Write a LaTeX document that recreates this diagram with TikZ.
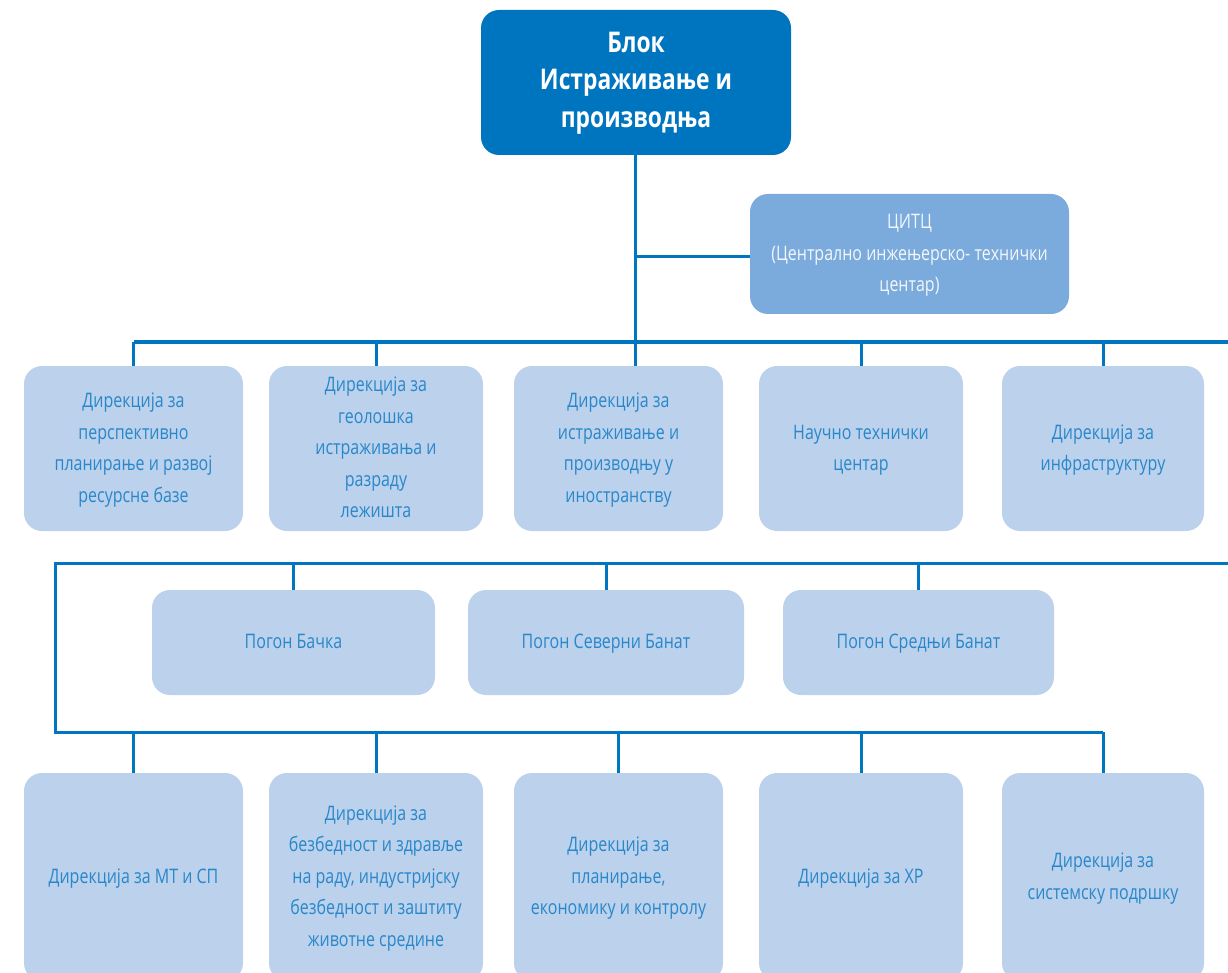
\documentclass[tikz,border=0pt]{standalone}
\usepackage{fontspec}
\setmainfont[FakeStretch=0.8]{Open Sans}
\usepackage{tikz}
\definecolor{topblue}{RGB}{0,117,191}
\definecolor{citcblue}{RGB}{123,170,220}
\definecolor{paleblue}{RGB}{187,209,236}
\definecolor{midblue}{RGB}{40,135,202}
\definecolor{lineblue}{RGB}{0,118,192}
\newcommand{\lines}[1]{\begin{tabular}{@{}c@{}}#1\end{tabular}}

\begin{document}
\begin{tikzpicture}[x=1pt, y=-1pt,
    unit/.style={rectangle, rounded corners=18pt, fill=paleblue, text=midblue, align=center,
        inner sep=0pt, font=\fontsize{20}{31.5}\selectfont},
    conn/.style={draw=lineblue, line width=3pt}]

    \clip (0,0) rectangle (1228,973);

    % Head of the block
    \node[unit, fill=topblue, text=white, minimum width=310pt, minimum height=145pt,
        font=\fontsize{28.5}{37.5}\selectfont\bfseries] (blok) at (636,82.5)
        {\lines{Блок\\Истраживање и\\производња}};
    \node[unit, fill=citcblue, text=white!90!citcblue, minimum width=319pt, minimum height=120pt] (citc) at (909.5,254)
        {\lines{ЦИТЦ\\(Централно инжењерско- технички\\центар)}};

    % First row
    \node[unit, minimum width=219pt, minimum height=165pt] (d1) at (133.5,448.5)
        {\lines{Дирекција за\\перспективно\\планирање и развој\\ресурсне базе}};
    \node[unit, minimum width=214pt, minimum height=165pt] (d2) at (376,448.5)
        {\lines{Дирекција за\\геолошка\\истраживања и\\разраду\\лежишта}};
    \node[unit, minimum width=209pt, minimum height=165pt] (d3) at (618.5,448.5)
        {\lines{Дирекција за\\истраживање и\\производњу у\\иностранству}};
    \node[unit, minimum width=204pt, minimum height=165pt] (d4) at (861,448.5)
        {\lines{Научно технички\\центар}};
    \node[unit, minimum width=202pt, minimum height=165pt] (d5) at (1103,448.5)
        {\lines{Дирекција за\\инфраструктуру}};

    % Plants
    \node[unit, minimum width=283pt, minimum height=105pt] (p1) at (293.5,642.5) {\lines{Погон Бачка}};
    \node[unit, minimum width=276pt, minimum height=105pt] (p2) at (606,642.5) {\lines{Погон Северни Банат}};
    \node[unit, minimum width=271pt, minimum height=105pt] (p3) at (918.5,642.5) {\lines{Погон Средњи Банат}};

    % Bottom row
    \node[unit, minimum width=219pt, minimum height=208pt] (s1) at (133.5,877) {\lines{Дирекција за МТ и СП}};
    \node[unit, minimum width=214pt, minimum height=208pt] (s2) at (376,877)
        {\lines{Дирекција за\\безбедност и здравље\\на раду, индустријску\\безбедност и заштиту\\животне средине}};
    \node[unit, minimum width=209pt, minimum height=208pt] (s3) at (618.5,877)
        {\lines{Дирекција за\\планирање,\\економику и контролу}};
    \node[unit, minimum width=204pt, minimum height=208pt] (s4) at (861,877) {\lines{Дирекција за ХР}};
    \node[unit, minimum width=202pt, minimum height=208pt] (s5) at (1103,877)
        {\lines{Дирекција за\\системску подршку}};

    % Bus points
    \coordinate (bus1) at (133.5,342);
    \coordinate (edge1) at (1228,342);
    \coordinate (edge2) at (1228,563);
    \coordinate (bus2) at (55,563);
    \coordinate (bus3) at (55,732);
    \coordinate (tap) at (635,257);

    % Connections
    \draw[conn] (blok.south -| tap) -- (tap |- d3.north);
    \draw[conn] (tap) -- (tap -| citc.west);
    \draw[conn] (bus1) -- (edge1);
    \foreach \n in {d1,d2,d4,d5} {
        \draw[conn] (bus1 -| \n.north) -- (\n.north);
    }
    \draw[conn] (edge2) -- (bus2) -- (bus3) -- (bus3 -| s5.north);
    \foreach \n in {p1,p2,p3} {
        \draw[conn] (bus2 -| \n.north) -- (\n.north);
    }
    \foreach \n in {s1,s2,s3,s4,s5} {
        \draw[conn] (bus3 -| \n.north) -- (\n.north);
    }
\end{tikzpicture}
\end{document}
